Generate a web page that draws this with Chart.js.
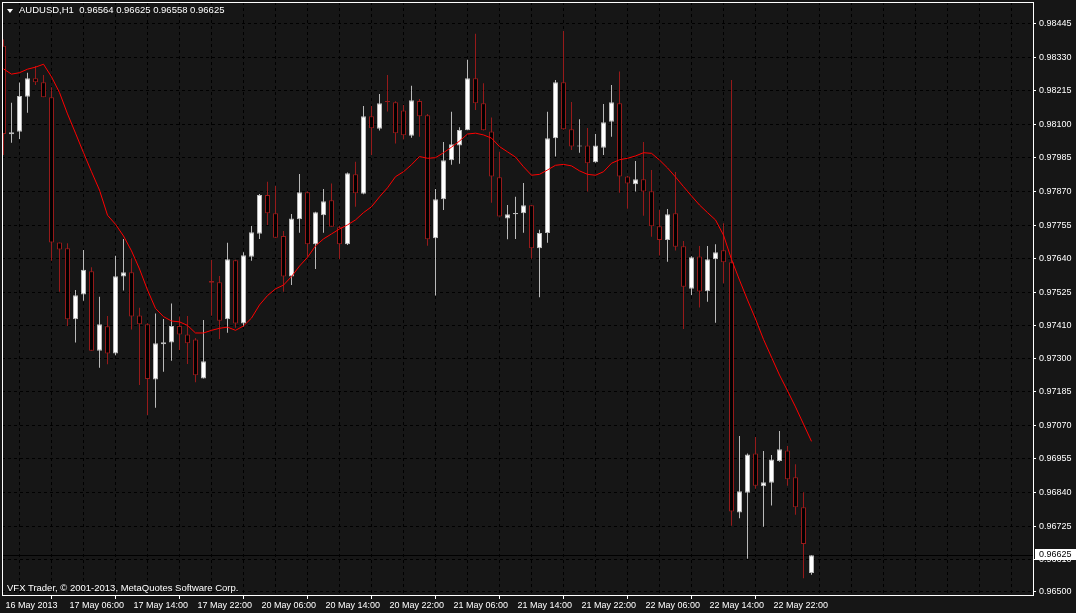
<!DOCTYPE html>
<html><head><meta charset="utf-8">
<script src="https://cdn.jsdelivr.net/npm/chart.js@4.4.1/dist/chart.umd.min.js"></script>
<style>
html,body{margin:0;padding:0;background:#161616;overflow:hidden}
#wrap{position:relative;width:1076px;height:613px;background:#161616}
canvas{display:block}
.txt{position:absolute;color:#ffffff;font-family:"Liberation Sans",Arial,sans-serif;font-size:9.5px;line-height:10px;white-space:pre}
#tri{position:absolute;left:7px;top:9px;width:0;height:0;border-left:3px solid transparent;border-right:3px solid transparent;border-top:4px solid #ffffff}
</style></head><body>
<div id="wrap">
<canvas id="c" width="1076" height="613"></canvas>
<div id="tri"></div>
<div class="txt" id="hdr" style="left:19px;top:5px"></div>
<div class="txt" id="copy" style="left:7px;top:583px">VFX Trader, © 2001-2013, MetaQuotes Software Corp.</div>
</div>
<script>
const symbolName = "AUDUSD,H1";
const timeLabels = ["16 May 2013","17 May 06:00","17 May 14:00","17 May 22:00","20 May 06:00","20 May 14:00","20 May 22:00","21 May 06:00","21 May 14:00","21 May 22:00","22 May 06:00","22 May 14:00","22 May 22:00"];
const priceTicks = [0.98445,0.98330,0.98215,0.98100,0.97985,0.97870,0.97755,0.97640,0.97525,0.97410,0.97300,0.97185,0.97070,0.96955,0.96840,0.96725,0.96610,0.96500];

const openP = [0.98369,0.98066,0.98075,0.98195,0.98258,0.98244,0.98193,0.97696,0.97676,0.97433,
0.97518,0.97597,0.97325,0.97409,0.97316,0.97579,0.97594,0.97446,0.97416,0.97227,
0.97347,0.97353,0.97410,0.97381,0.97364,0.97230,0.97564,0.97560,0.97433,0.97635,
0.97418,0.97647,0.97726,0.97858,0.97796,0.97718,0.97579,0.97775,0.97868,0.97690,
0.97789,0.97840,0.97748,0.97690,0.97929,0.97863,0.98128,0.98085,0.98180,0.98176,
0.98148,0.98061,0.98180,0.98131,0.97710,0.97844,0.97977,0.98028,0.98080,0.98258,
0.98172,0.98076,0.97919,0.97778,0.97792,0.97796,0.97823,0.97676,0.97728,0.98053,
0.98244,0.98083,0.98024,0.98028,0.97970,0.98020,0.98109,0.98172,0.97922,0.97895,
0.97912,0.97871,0.97751,0.97704,0.97796,0.97683,0.97537,0.97648,0.97529,0.97638,
0.97669,0.97628,0.96771,0.96839,0.96973,0.96861,0.96873,0.96948,0.96984,0.96892,
0.96789,0.96564];
const highP = [0.98391,0.98174,0.98243,0.98277,0.98300,0.98269,0.98227,0.97696,0.97693,0.97533,
0.97670,0.97611,0.97510,0.97444,0.97650,0.97708,0.97642,0.97472,0.97419,0.97453,
0.97434,0.97487,0.97442,0.97444,0.97369,0.97430,0.97636,0.97581,0.97695,0.97637,
0.97662,0.97752,0.97862,0.97904,0.97889,0.97735,0.97793,0.97930,0.97870,0.97801,
0.97879,0.97898,0.97753,0.97935,0.97972,0.98163,0.98163,0.98204,0.98269,0.98179,
0.98166,0.98232,0.98187,0.98136,0.97879,0.98040,0.98143,0.98090,0.98321,0.98410,
0.98241,0.98124,0.98006,0.97824,0.97852,0.97899,0.97824,0.97739,0.98143,0.98252,
0.98420,0.98177,0.98118,0.98088,0.98067,0.98170,0.98235,0.98281,0.97923,0.97975,
0.98040,0.97944,0.97807,0.97810,0.97937,0.97701,0.97649,0.97684,0.97684,0.97690,
0.97762,0.98252,0.97033,0.96973,0.97030,0.96982,0.96968,0.97050,0.96999,0.96937,
0.96841,0.96625];
const lowP = [0.97995,0.98037,0.98050,0.98140,0.98235,0.98193,0.97633,0.97527,0.97410,0.97353,
0.97496,0.97325,0.97267,0.97279,0.97310,0.97531,0.97398,0.97208,0.97105,0.97130,
0.97253,0.97291,0.97328,0.97280,0.97217,0.97230,0.97445,0.97365,0.97387,0.97404,
0.97408,0.97633,0.97708,0.97756,0.97710,0.97527,0.97550,0.97729,0.97647,0.97605,
0.97729,0.97750,0.97639,0.97687,0.97818,0.97861,0.97995,0.98079,0.98144,0.98035,
0.98049,0.98054,0.98058,0.97685,0.97514,0.97807,0.97962,0.97965,0.98080,0.98149,
0.98079,0.97832,0.97785,0.97707,0.97708,0.97729,0.97640,0.97508,0.97695,0.97990,
0.98082,0.98012,0.98003,0.97870,0.97969,0.97995,0.98058,0.97866,0.97811,0.97870,
0.97787,0.97715,0.97651,0.97630,0.97668,0.97400,0.97516,0.97473,0.97493,0.97421,
0.97556,0.96726,0.96752,0.96613,0.96853,0.96723,0.96795,0.96945,0.96863,0.96764,
0.96546,0.96558];
const closeP = [0.98067,0.98073,0.98197,0.98258,0.98244,0.98193,0.97696,0.97672,0.97433,0.97515,
0.97602,0.97325,0.97416,0.97316,0.97580,0.97594,0.97442,0.97416,0.97228,0.97351,
0.97354,0.97410,0.97381,0.97351,0.97241,0.97289,0.97558,0.97428,0.97638,0.97418,
0.97652,0.97731,0.97858,0.97796,0.97712,0.97579,0.97778,0.97868,0.97690,0.97799,
0.97837,0.97750,0.97690,0.97933,0.97864,0.98128,0.98087,0.98172,0.98176,0.98070,
0.98063,0.98183,0.98128,0.97707,0.97844,0.97977,0.98032,0.98081,0.98258,0.98172,
0.98080,0.97922,0.97785,0.97792,0.97797,0.97823,0.97676,0.97728,0.98053,0.98244,
0.98083,0.98024,0.98028,0.97967,0.98028,0.98107,0.98176,0.97922,0.97898,0.97912,
0.97870,0.97751,0.97704,0.97792,0.97681,0.97544,0.97645,0.97528,0.97638,0.97662,
0.97628,0.96775,0.96844,0.96970,0.96863,0.96875,0.96953,0.96988,0.96885,0.96789,
0.96664,0.96625];
const maP = [0.98290,0.98272,0.98277,0.98289,0.98296,0.98306,0.98263,0.98209,0.98136,0.98070,
0.98003,0.97938,0.97875,0.97789,0.97758,0.97718,0.97667,0.97605,0.97533,0.97470,
0.97442,0.97427,0.97424,0.97412,0.97386,0.97386,0.97395,0.97402,0.97406,0.97395,
0.97410,0.97437,0.97482,0.97514,0.97537,0.97550,0.97579,0.97615,0.97645,0.97684,
0.97708,0.97725,0.97742,0.97756,0.97773,0.97798,0.97818,0.97852,0.97883,0.97921,
0.97938,0.97962,0.97990,0.97984,0.97986,0.98003,0.98022,0.98043,0.98067,0.98070,
0.98064,0.98053,0.98024,0.98006,0.97988,0.97955,0.97926,0.97929,0.97944,0.97960,
0.97963,0.97958,0.97941,0.97929,0.97926,0.97938,0.97967,0.97979,0.97984,0.97992,
0.98003,0.98001,0.97978,0.97951,0.97920,0.97887,0.97855,0.97824,0.97798,0.97773,
0.97721,0.97638,0.97567,0.97499,0.97434,0.97364,0.97303,0.97242,0.97188,0.97133,
0.97074,0.97015];

const nBars = closeP.length;
const last = nBars - 1;
document.getElementById('hdr').textContent = symbolName + "  " + [openP[last],highP[last],lowP[last],closeP[last]].map(v=>v.toFixed(5)).join(' ');

const BULL_LINE = '#b9b9b9', BULL_FILL = '#ffffff';
const BEAR_LINE = '#961a1a', BEAR_FILL = '#000000';
const isBull = i => closeP[i] >= openP[i];

const wickData = closeP.map((c,i)=>({x:i, y:[lowP[i], highP[i]]}));
const bodyData = closeP.map((c,i)=>({x:i, y:[openP[i], c]}));
const maData = maP.map((v,i)=>({x:i, y:v}));

const X_MIN = -0.1875, X_MAX = X_MIN + 1031/8;
const Y_MAX = 0.98519, Y_MIN = 0.96489;

Chart.defaults.font.family = '"Liberation Sans", Arial, sans-serif';
Chart.defaults.font.size = 9;
Chart.defaults.color = '#ffffff';

const mtPlugin = {
  id: 'mt',
  beforeDatasetsDraw(chart) {
    const {ctx, chartArea: a, scales: {y}} = chart;
    const py = Math.round(y.getPixelForValue(closeP[last])) + 0.5;
    ctx.save();
    ctx.strokeStyle = '#000000'; ctx.lineWidth = 1;
    ctx.beginPath(); ctx.moveTo(a.left, py); ctx.lineTo(a.right, py); ctx.stroke();
    ctx.restore();
  },
  afterDraw(chart) {
    const {ctx, chartArea: a, scales: {y}} = chart;
    ctx.save();
    ctx.strokeStyle = '#ffffff'; ctx.lineWidth = 1;
    ctx.strokeRect(a.left + 0.5, a.top + 0.5, a.right - a.left, a.bottom - a.top);
    const py = Math.round(y.getPixelForValue(closeP[last]));
    ctx.fillStyle = '#ffffff';
    ctx.fillRect(a.right + 2, py - 6, 1076 - a.right - 2, 11);
    ctx.fillStyle = '#000000';
    ctx.font = '9px "Liberation Sans", Arial, sans-serif';
    ctx.textBaseline = 'middle';
    ctx.fillText(closeP[last].toFixed(5), a.right + 6, py);
    ctx.restore();
  }
};

new Chart(document.getElementById('c'), {
  type: 'bar',
  data: {
    datasets: [
      {type: 'line', label: 'MA', data: maData, borderColor: '#ff0000', borderWidth: 1,
       pointRadius: 0, tension: 0, fill: false, order: 0},
      {label: 'body', data: bodyData, barThickness: 5, grouped: false, order: 1,
       borderWidth: 1, borderSkipped: false, inflateAmount: 0,
       backgroundColor: ctx => isBull(ctx.dataIndex) ? BULL_FILL : BEAR_FILL,
       borderColor: ctx => isBull(ctx.dataIndex) ? BULL_LINE : BEAR_LINE},
      {label: 'wick', data: wickData, barThickness: 1, grouped: false, order: 2,
       borderWidth: 0, inflateAmount: 0,
       backgroundColor: ctx => isBull(ctx.dataIndex) ? BULL_LINE : BEAR_LINE}
    ]
  },
  options: {
    responsive: false, animation: false, devicePixelRatio: 1,
    layout: {padding: {left: 2, top: 2, right: 0, bottom: 0}},
    plugins: {legend: {display: false}, tooltip: {enabled: false}, title: {display: false}},
    scales: {
      x: {
        type: 'linear', position: 'bottom', min: X_MIN, max: X_MAX, offset: false,
        grid: {color: '#000000', lineWidth: 1, tickLength: 4,
               tickColor: c => (c.tick && c.tick.value % 8 === 0 && timeLabels[c.tick.value/8]) ? '#ffffff' : 'rgba(0,0,0,0)'},
        border: {display: false, dash: [3,3]},
        ticks: {autoSkip: false, maxRotation: 0, minRotation: 0, align: 'start', padding: 1, labelOffset: 2, color: '#ffffff',
                callback: v => (v % 8 === 0 && timeLabels[v/8]) ? timeLabels[v/8] : ''},
        afterBuildTicks: s => { const t = []; for (let v = 0; v <= s.max; v += 4) t.push({value: v}); s.ticks = t; },
        afterFit: s => { s.height = 18; s.paddingLeft = 0; s.paddingRight = 0; }
      },
      y: {
        type: 'linear', position: 'right', min: Y_MIN, max: Y_MAX,
        grid: {color: '#000000', lineWidth: 1, tickLength: 3, tickColor: '#ffffff'},
        border: {display: false, dash: [3,3]},
        ticks: {padding: 3, color: '#ffffff', callback: v => Number(v).toFixed(5)},
        afterBuildTicks: s => { s.ticks = priceTicks.map(v => ({value: v})); },
        afterFit: s => { s.width = 43; s.paddingTop = 0; s.paddingBottom = 0; }
      }
    }
  },
  plugins: [mtPlugin]
});
</script>
</body></html>
